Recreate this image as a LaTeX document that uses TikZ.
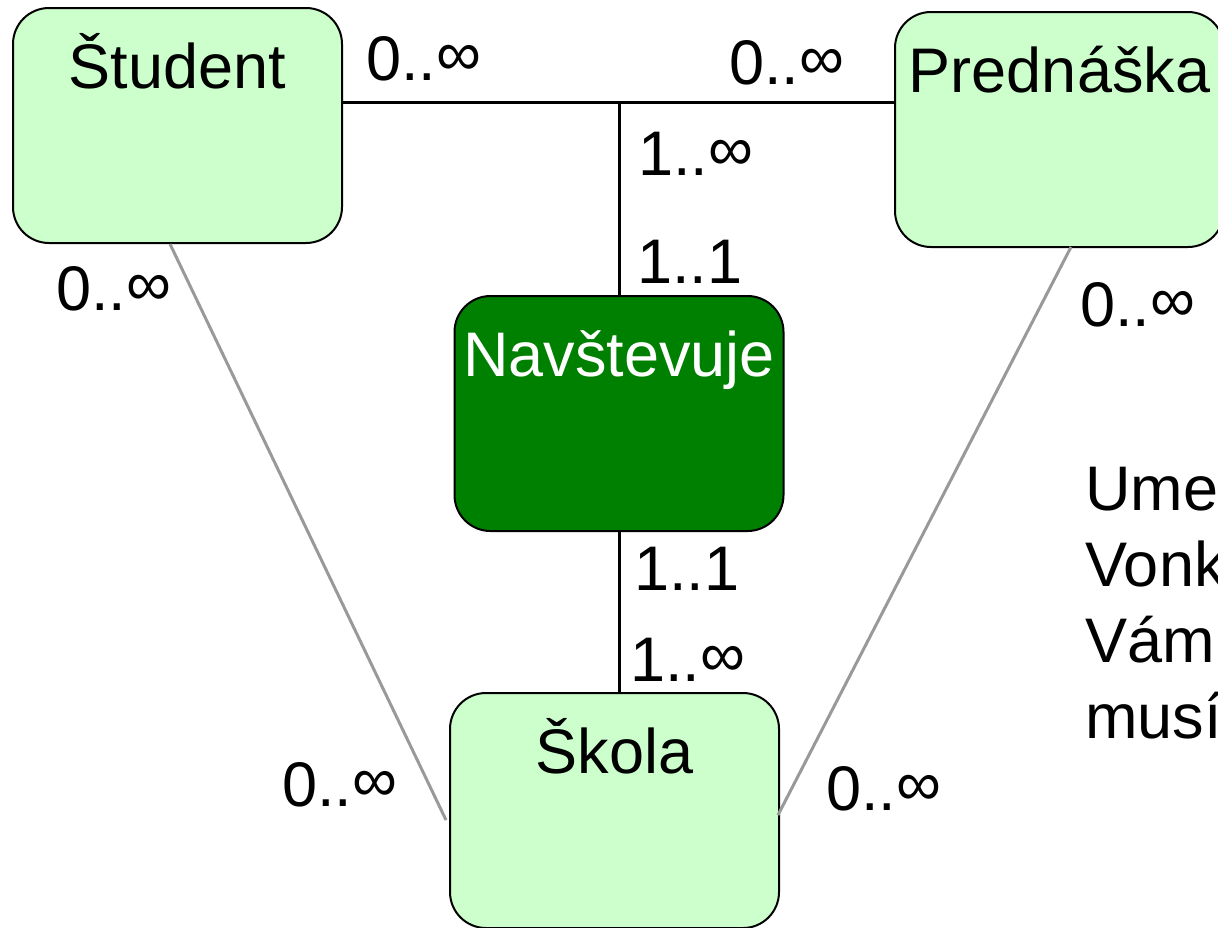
\documentclass[tikz,border=0pt]{standalone}
\usepackage{fontspec}
\setmainfont{Liberation Sans}
\usetikzlibrary{calc}
\definecolor{lightgreen}{HTML}{CCFFCC}
\definecolor{darkgreen}{HTML}{008000}
\definecolor{grayline}{HTML}{999999}
\newcommand{\infsym}{\raisebox{2.5pt}{∞}}
\begin{document}
\begin{tikzpicture}[x=0.5pt,y=-0.5pt,
  every node/.style={font=\fontsize{31.5}{37}\selectfont},
  entity/.style={draw=black, line width=1pt, fill=lightgreen, rounded corners=18pt,
    minimum width=164.5pt, minimum height=117.5pt, inner xsep=0pt, inner ysep=0pt,
    text height=40pt, text depth=77.5pt, anchor=center},
  relation/.style={entity, fill=darkgreen, text=white},
  card/.style={anchor=base west, inner sep=0pt},
  conn/.style={line width=1.5pt, black},
  grayconn/.style={line width=1.5pt, grayline}]
\useasboundingbox (0,0) rectangle (1218,927);
\node[entity] (stud) at (177.5,125.5) {Študent};
\node[entity] (pred) at (1059.5,129.5) {Prednáška};
\node[relation] (nav) at (619,413.5) {Navštevuje};
\node[entity] (skola) at (614.5,810.5) {Škola};
\coordinate (j) at (619,102);
\draw[conn] (j -| stud.east) -- (j -| pred.west);
\draw[conn] (j) -- (nav.north);
\draw[conn] (nav.south) -- (nav.south |- skola.north);
\draw[grayconn] ($(stud.south)+(-7.5,0)$) -- ($(skola.west)+(-3,9.5)$);
\draw[grayconn] ($(pred.south)+(11.5,-1)$) -- ($(skola.east)+(-2,4.5)$);
\node[card] (c1) at (366,80) {0..\infsym};
\node[card] (c2) at (729,84) {0..\infsym};
\node[card] (c3) at (638,175) {1..\infsym};
\node[card] (c4) at (637,283) {1..1};
\node[card] (c5) at (56,310) {0..\infsym};
\node[card] (c6) at (1080,326) {0..\infsym};
\node[card] (c7) at (634,590) {1..1};
\node[card] (c8) at (630,681) {1..\infsym};
\node[card] (c9) at (282,806) {0..\infsym};
\node[card] (c10) at (826,810) {0..\infsym};
\node[anchor=base west, inner sep=0pt] (t1) at (1085,510) {Ume};
\node[anchor=base west, inner sep=0pt] (t2) at (1085,586) {Vonk};
\node[anchor=base west, inner sep=0pt] (t3) at (1085,662) {Vám};
\node[anchor=base west, inner sep=0pt] (t4) at (1085,738) {musí};
\end{tikzpicture}
\end{document}
